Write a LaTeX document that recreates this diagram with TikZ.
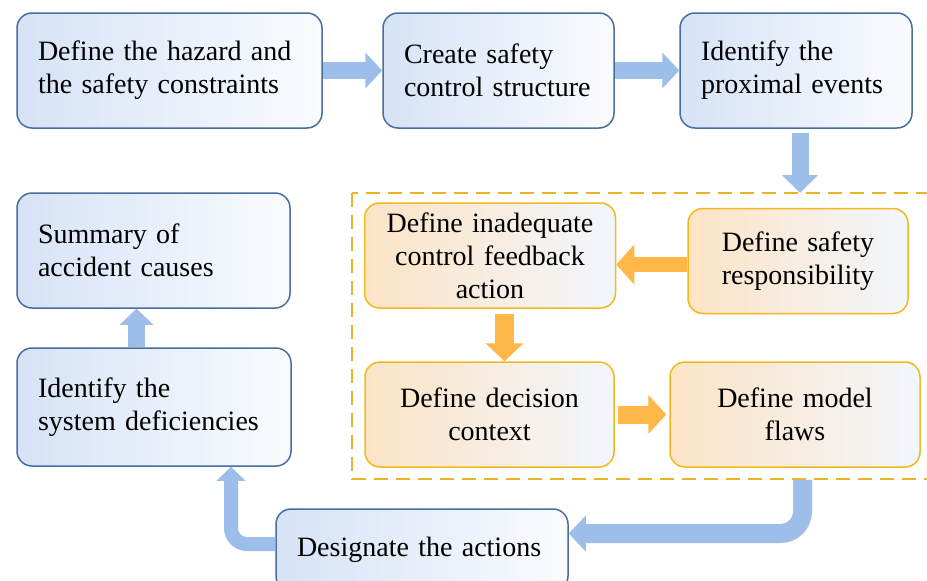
\documentclass[tikz,border=0pt]{standalone}
\usepackage{fontspec}
\setmainfont{Liberation Serif}
\usetikzlibrary{arrows.meta}
\definecolor{bbord}{RGB}{72,110,160}
\definecolor{bfillL}{RGB}{214,227,246}
\definecolor{bfillR}{RGB}{250,251,254}
\definecolor{obord}{RGB}{242,184,30}
\definecolor{ofillL}{RGB}{252,228,198}
\definecolor{ofillR}{RGB}{242,246,252}
\definecolor{barrow}{RGB}{158,190,234}
\definecolor{oarrow}{RGB}{255,183,72}
\definecolor{dashc}{RGB}{236,178,40}
\tikzset{
  box/.style={rounded corners=15pt, line width=1.5pt, inner ysep=0pt,
    font=\fontsize{28}{33}\selectfont},
  bluebox/.style={box, draw=bbord, left color=bfillL, right color=bfillR,
    inner xsep=21pt, align=left},
  orangebox/.style={box, draw=obord, left color=ofillL, right color=ofillR,
    inner xsep=8pt, align=center},
  barr/.style={draw=barrow, line width=#1},
  oarr/.style={draw=oarrow, line width=#1},
  frame/.style={draw=dashc, line width=2pt, dash pattern=on 14pt off 8pt}
}
\begin{document}
\begin{tikzpicture}[x=1pt,y=-1pt]
\clip (0,0) rectangle (927,581);
\fill[white] (0,0) rectangle (927,581);

% dashed group frame
\draw[frame] (352,193) rectangle (960,479);
\coordinate (gtop) at (800,193);

% blue boxes
\node[bluebox, minimum width=305pt, text width=263pt, minimum height=115pt] (hazard) at (169.5,70.5)
  {Define the hazard and\\the safety constraints};
\node[bluebox, minimum width=231pt, text width=189pt, minimum height=115pt] (struct) at (498.5,70.5)
  {Create safety\\control structure};
\node[bluebox, minimum width=232pt, text width=190pt, minimum height=115pt] (prox) at (796,70.5)
  {Identify the\\proximal events};
\node[bluebox, minimum width=273pt, text width=231pt, minimum height=115pt] (summ) at (153.5,250.5)
  {Summary of\\accident causes};
\node[bluebox, minimum width=274pt, text width=232pt, minimum height=118pt] (ident) at (154,407)
  {Identify the\\system deficiencies};
\node[bluebox, minimum width=292pt, text width=250pt, minimum height=82pt, inner xsep=19pt] (design) at (422,550)
  {Designate the actions};

% orange boxes
\node[orangebox, minimum width=251pt, text width=235pt, minimum height=105pt] (inad) at (490,255.5)
  {Define inadequate\\control feedback\\action};
\node[orangebox, minimum width=220pt, text width=204pt, minimum height=105pt] (resp) at (798,261)
  {Define safety\\responsibility};
\node[orangebox, minimum width=249pt, text width=233pt, minimum height=105pt] (dec) at (489.5,414.5)
  {Define decision\\context};
\node[orangebox, minimum width=250pt, text width=234pt, minimum height=105pt] (flaws) at (795,414.5)
  {Define model\\flaws};

% blue arrows
\draw[barr=17pt, -{Triangle[width=35pt,length=17pt]}] (hazard.east) -- (struct.west);
\draw[barr=17pt, -{Triangle[width=35pt,length=17pt]}] (struct.east) -- (prox.west);
\draw[barr=17pt, -{Triangle[width=35pt,length=18pt]}] ([xshift=4pt,yshift=-4pt]prox.south) -- (gtop);
\draw[barr=19pt, rounded corners=22pt, -{Triangle[width=35pt,length=17pt]}]
  ([xshift=7.5pt,yshift=-12pt]flaws.south) |- ([yshift=16.5pt]design.east);
\draw[barr=14pt, rounded corners=16pt, -{Triangle[width=28pt,length=14pt]}]
  ([yshift=6pt]design.west) -| ([xshift=77pt]ident.south);
\draw[barr=17pt, -{Triangle[width=33pt,length=16pt]}] ([xshift=-17.5pt]ident.north) -- ([xshift=-17pt]summ.south);

% orange arrows
\draw[oarr=15pt, -{Triangle[width=39pt,length=18pt]}] ([yshift=-3.5pt]resp.west) -- ([yshift=-3.5pt]resp.west -| inad.east);
\draw[oarr=19pt, -{Triangle[width=37pt,length=18pt]}] ([xshift=14.5pt,yshift=-5pt]inad.south) -- ([xshift=14.5pt]inad.south |- dec.north);
\draw[oarr=18pt, -{Triangle[width=38pt,length=18pt]}] ([xshift=3pt]dec.east) -- ([xshift=-3pt]flaws.west);
\end{tikzpicture}
\end{document}
